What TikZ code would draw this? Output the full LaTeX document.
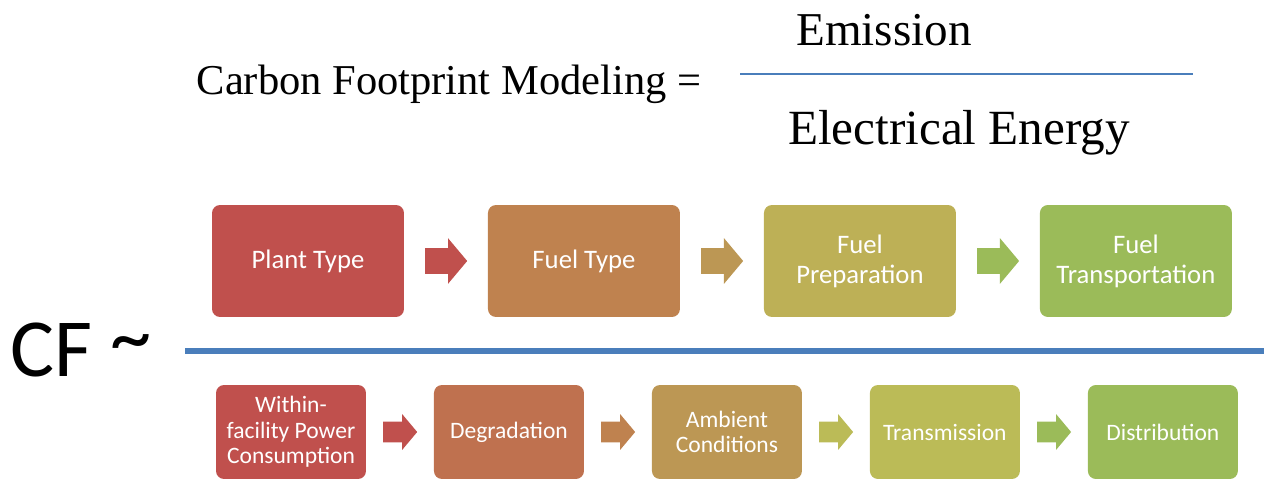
\documentclass[tikz,border=0pt]{standalone}
\usepackage{fontspec}
\setmainfont{Liberation Serif}
\newfontfamily\calibri{Carlito}
\usetikzlibrary{positioning, shapes.arrows}
\definecolor{cfred}{HTML}{C0504D}
\definecolor{cfrust}{HTML}{BF714F}
\definecolor{cftan}{HTML}{BF824F}
\definecolor{cfgold}{HTML}{BC9754}
\definecolor{cfolive}{HTML}{BDB056}
\definecolor{cflime}{HTML}{BBBB57}
\definecolor{cfgreen}{HTML}{9BBB59}
\definecolor{cfblue}{HTML}{4A7EBB}
\tikzset{
x=0.02cm, y=-0.02cm, % one unit is one pixel of the page
stage/.style={rectangle, rounded corners=0.16cm, fill=#1, text=white, align=center, inner sep=0pt, minimum width=3.84cm, minimum height=2.24cm, font=\calibri\fontsize{15.2}{17}\selectfont}, % upper row of boxes
substage/.style={stage=#1, minimum width=3cm, minimum height=1.88cm, font=\calibri\fontsize{13.4}{14.6}\selectfont}, % lower row of boxes
flow/.style={single arrow, fill=#1, draw=none, inner xsep=0pt, inner ysep=0.25cm, minimum height=0.84cm, minimum width=0.9cm, single arrow head extend=0.2cm, single arrow tip angle=100}, % block arrow between upper boxes
subflow/.style={flow=#1, inner ysep=0.2cm, minimum height=0.68cm, minimum width=0.7cm, single arrow head extend=0.15cm}, % block arrow between lower boxes
}
\begin{document}
\begin{tikzpicture}
  \useasboundingbox (0,0) rectangle (1264,479);

  % Formula
  \node[anchor=base, inner sep=0pt, font=\fontsize{24.2}{28}\selectfont] (title) at (449,95) {Carbon Footprint Modeling =};
  \node[anchor=base, inner sep=0pt, font=\fontsize{26.8}{30}\selectfont] (emission) at (884,46) {Emission};
  \node[anchor=base, inner sep=0pt, font=\fontsize{28}{32}\selectfont] (energy) at (959,145) {Electrical Energy};
  \coordinate (fracl) at (740,74);
  \coordinate (fracr) at (1193,74);
  \draw[cfblue, line width=0.85pt] (fracl) -- (fracr);

  % Upper chain
  \node[stage=cfred] (plant) at (308,261) {Plant Type};
  \node[flow=cfred, right=0.41cm of plant] (f1) {};
  \node[stage=cftan, right=0.4cm of f1] (fuel) {Fuel Type};
  \node[flow=cfgold, right=0.41cm of fuel] (f2) {};
  \node[stage=cfolive, right=0.4cm of f2] (prep) {Fuel\\Preparation};
  \node[flow=cfgreen, right=0.41cm of prep] (f3) {};
  \node[stage=cfgreen, right=0.4cm of f3] (transport) {Fuel\\Transportation};

  % Divider
  \node[anchor=base west, inner sep=0pt, font=\calibri\fontsize{47}{50}\selectfont] (cf) at (10,377) {CF \raisebox{0.15em}{\textasciitilde}};
  \coordinate (divl) at (185,351);
  \coordinate (divr) at (1264,351);
  \draw[cfblue, line width=0.14cm] (divl) -- (divr);

  % Lower chain
  \node[substage=cfred] (within) at (291,432) {Within-\\facility Power\\Consumption};
  \node[subflow=cfred, right=0.33cm of within] (s1) {};
  \node[substage=cfrust, right=0.32cm of s1] (degr) {Degradation};
  \node[subflow=cftan, right=0.33cm of degr] (s2) {};
  \node[substage=cfgold, right=0.32cm of s2] (ambient) {Ambient\\Conditions};
  \node[subflow=cflime, right=0.33cm of ambient] (s3) {};
  \node[substage=cflime, right=0.32cm of s3] (trans) {Transmission};
  \node[subflow=cfgreen, right=0.33cm of trans] (s4) {};
  \node[substage=cfgreen, right=0.32cm of s4] (distr) {Distribution};
\end{tikzpicture}
\end{document}
